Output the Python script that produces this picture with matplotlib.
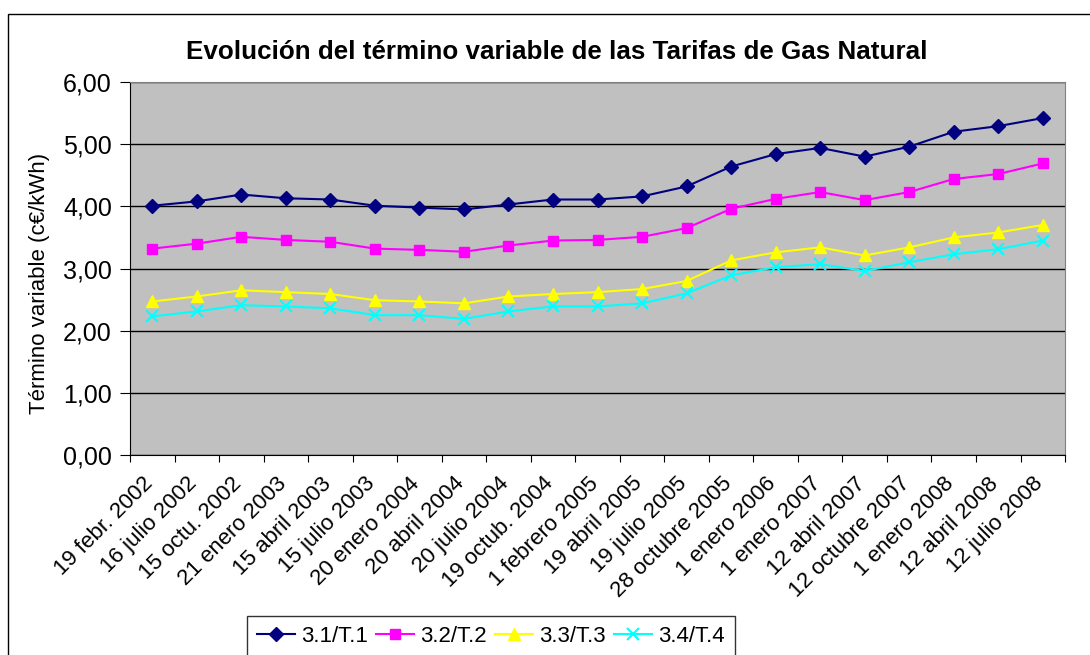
import matplotlib.pyplot as plt
from matplotlib.patches import Rectangle
from matplotlib.ticker import FuncFormatter
from matplotlib.transforms import ScaledTranslation

plt.rcParams['font.family'] = ['Liberation Sans', 'DejaVu Sans']

# Fechas de las tarifas
fechas = ['19 febr. 2002', '16 julio 2002', '15 octu. 2002', '21 enero 2003',
          '15 abril 2003', '15 julio 2003', '20 enero 2004', '20 abril 2004',
          '20 julio 2004', '19 octub. 2004', '1 febrero 2005', '19 abril 2005',
          '19 julio 2005', '28 octubre 2005', '1 enero 2006', '1 enero 2007',
          '12 abril 2007', '12 octubre 2007', '1 enero 2008', '12 abril 2008',
          '12 julio 2008']

# Término variable (c€/kWh)
t1 = [4.01, 4.08, 4.19, 4.13, 4.11, 4.01, 3.98, 3.95, 4.03, 4.11, 4.11,
      4.16, 4.32, 4.64, 4.84, 4.94, 4.80, 4.96, 5.20, 5.29, 5.42]
t2 = [3.32, 3.40, 3.51, 3.46, 3.43, 3.32, 3.30, 3.27, 3.37, 3.45, 3.46,
      3.51, 3.65, 3.96, 4.12, 4.23, 4.10, 4.23, 4.44, 4.52, 4.69]
t3 = [2.47, 2.55, 2.65, 2.62, 2.59, 2.49, 2.47, 2.44, 2.55, 2.59, 2.62,
      2.67, 2.80, 3.13, 3.26, 3.34, 3.21, 3.34, 3.50, 3.58, 3.70]
t4 = [2.23, 2.31, 2.41, 2.39, 2.36, 2.25, 2.25, 2.19, 2.31, 2.39, 2.39,
      2.44, 2.60, 2.89, 3.02, 3.07, 2.96, 3.10, 3.23, 3.31, 3.45]

series = ['3.1/T.1', '3.2/T.2', '3.3/T.3', '3.4/T.4']

fig = plt.figure(figsize=(10.9, 6.55), dpi=100)
ax = fig.add_axes([0.1193, 0.3053, 0.8578, 0.5695])

# Marco exterior del gráfico
fig.patches.append(Rectangle((8 / 1090, -0.1), 1.2, 1 - 14 / 655 + 0.1,
                             transform=fig.transFigure, fill=False,
                             edgecolor='black', linewidth=1))

x = list(range(len(fechas)))
ax.plot(x, t1, color='#000080', marker='D', markersize=7, lw=1.5, label=series[0])
ax.plot(x, t2, color='#FF00FF', marker='s', markersize=7.5, lw=1.5, label=series[1])
ax.plot(x, t3, color='#FFFF00', marker='^', markersize=8.5, lw=1.5, label=series[2])
ax.plot(x, t4, color='#00FFFF', marker='x', markersize=8, mew=1.5, lw=1.5, label=series[3])

ax.set_facecolor('#C0C0C0')
ax.set_xlim(-0.5, len(fechas) - 0.5)
ax.set_ylim(0, 6)
ax.set_yticks([0, 1, 2, 3, 4, 5, 6])
ax.yaxis.set_major_formatter(FuncFormatter(lambda v, p: f'{v:.2f}'.replace('.', ',')))
ax.grid(axis='y', color='black', linewidth=1)
ax.set_axisbelow(True)

# Marcas entre categorías, etiquetas en el centro
ax.set_xticks([i - 0.5 for i in range(len(fechas) + 1)])
ax.set_xticklabels([])
ax.set_xticks(x, minor=True)
ax.set_xticklabels(fechas, minor=True, rotation=45, ha='right', va='top',
                   rotation_mode='anchor', fontsize=16)
ax.tick_params(axis='x', which='minor', length=0, pad=13)
ax.tick_params(axis='x', which='major', length=5, direction='out')
ax.tick_params(axis='y', length=7, direction='out', labelsize=18, pad=6)
shift = ScaledTranslation(-0.1, 0, fig.dpi_scale_trans)
for lbl in ax.get_xticklabels(minor=True):
    lbl.set_transform(lbl.get_transform() + shift)

for s in ['top', 'right']:
    ax.spines[s].set_color('#808080')
for s in ['left', 'bottom']:
    ax.spines[s].set_color('black')

ax.set_ylabel('Término variable (c€/kWh)', fontsize=16)
ax.yaxis.set_label_coords(-0.0855, 0.461)
fig.text(557 / 1090, 1 - 52 / 655, 'Evolución del término variable de las Tarifas de Gas Natural',
         ha='center', va='center', fontsize=18.7, fontweight='bold')

leg = fig.legend(loc='upper left', bbox_to_anchor=(247 / 1090, 1 - 616 / 655), ncol=4,
                 fontsize=16, frameon=True, fancybox=False, edgecolor='black',
                 handlelength=1.7, handletextpad=0.3, columnspacing=0.35,
                 borderpad=0.45, borderaxespad=0)
leg.get_frame().set_linewidth(1)

fig.savefig('out.png', dpi=100)
